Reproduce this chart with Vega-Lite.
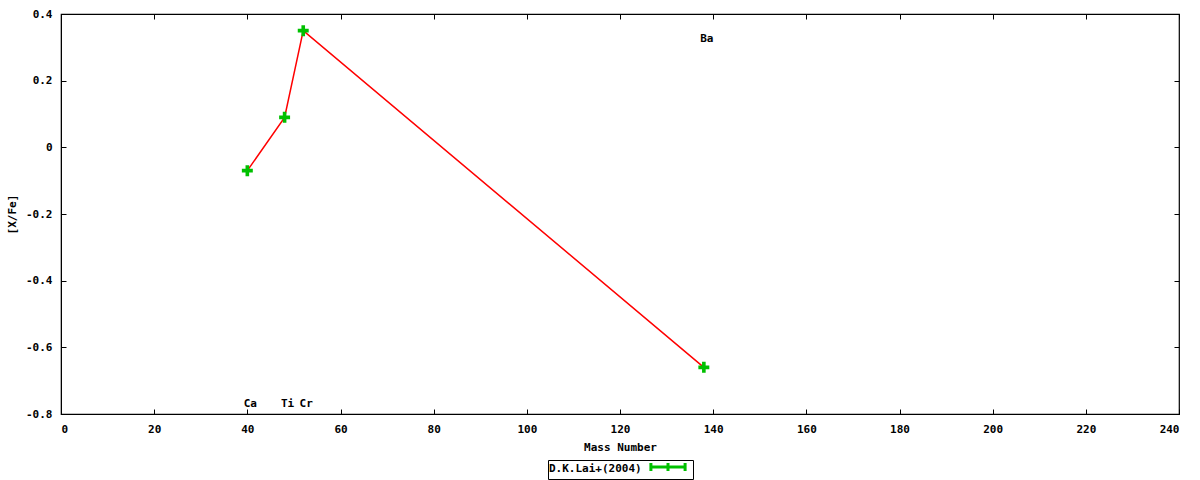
{
  "$schema": "https://vega.github.io/schema/vega-lite/v6.json",
  "width": 1118,
  "height": 400,
  "autosize": {"type": "none"},
  "padding": {"left": 61, "top": 14, "right": 21, "bottom": 66},
  "background": "white",
  "config": {
    "view": {"stroke": "black", "strokeWidth": 1.2},
    "font": "DejaVu Sans Mono",
    "axis": {
      "labelFont": "DejaVu Sans Mono",
      "labelFontSize": 11,
      "labelFontWeight": "bold",
      "labelColor": "black",
      "titleFont": "DejaVu Sans Mono",
      "titleFontSize": 11,
      "titleFontWeight": "bold",
      "titleColor": "black",
      "domainColor": "black",
      "tickColor": "black",
      "grid": false,
      "tickSize": -5
    }
  },
  "data": {
    "values": [
      {"element": "Ca", "mass": 40, "xfe": -0.07, "labelY": -0.77},
      {"element": "Ti", "mass": 48, "xfe": 0.09, "labelY": -0.77},
      {"element": "Cr", "mass": 52, "xfe": 0.35, "labelY": -0.77},
      {"element": "Ba", "mass": 138, "xfe": -0.66, "labelY": 0.325}
    ]
  },
  "layer": [
    {
      "mark": {"type": "line", "color": "#ff0000", "strokeWidth": 1.5},
      "encoding": {
        "x": {"field": "mass", "type": "quantitative", "scale": {"domain": [0, 240], "nice": false, "zero": false},
              "axis": {"orient": "bottom", "title": "Mass Number", "values": [0,20,40,60,80,100,120,140,160,180,200,220,240], "labelPadding": 14, "titlePadding": 7}},
        "y": {"field": "xfe", "type": "quantitative", "scale": {"domain": [-0.8, 0.4], "nice": false, "zero": false},
              "axis": {"orient": "left", "title": "[X/Fe]", "values": [-0.8,-0.6,-0.4,-0.2,0,0.2,0.4], "labelPadding": 14, "titlePadding": 8,
                       "labelExpr": "datum.value == 0 ? '0' : replace(format(datum.value, '.1f'), '\u2212', '-')"}}
      }
    },
    {
      "mark": {"type": "point", "shape": "M-0.33,-1H0.33V-0.33H1V0.33H0.33V1H-0.33V0.33H-1V-0.33H-0.33Z", "filled": true, "size": 120, "opacity": 1},
      "encoding": {
        "x": {"field": "mass", "type": "quantitative", "scale": {"domain": [0, 240], "nice": false, "zero": false},
              "axis": {"orient": "top", "labels": false, "title": null, "domain": false, "values": [0,20,40,60,80,100,120,140,160,180,200,220,240]}},
        "y": {"field": "xfe", "type": "quantitative", "scale": {"domain": [-0.8, 0.4], "nice": false, "zero": false},
              "axis": {"orient": "right", "labels": false, "title": null, "domain": false, "values": [-0.8,-0.6,-0.4,-0.2,0,0.2,0.4]}},
        "color": {
          "datum": "D.K.Lai+(2004)",
          "type": "nominal",
          "scale": {"range": ["#00c000"]},
          "legend": {
            "orient": "none",
            "legendX": 487,
            "legendY": 446,
            "title": "D.K.Lai+(2004)",
            "titleOrient": "left",
            "titleFont": "DejaVu Sans Mono",
            "titleFontSize": 11,
            "titleFontWeight": "bold",
            "titleColor": "black",
            "titlePadding": 20,
            "titleBaseline": "middle",
            "labelExpr": "''",
            "labelFontSize": 1,
            "labelOffset": 0,
            "strokeColor": "black",
            "padding": 1,
            "symbolType": "M-3.8,0H3.8M-3.8,-0.9V0.9M0,-0.9V0.9M3.8,-0.9V0.9",
            "symbolSize": 81,
            "symbolStrokeColor": "#00c000",
            "symbolStrokeWidth": 3,
            "symbolFillColor": "transparent",
            "symbolOpacity": 1
          }
        }
      }
    },
    {
      "mark": {"type": "text", "font": "DejaVu Sans Mono", "fontSize": 11, "fontWeight": "bold", "color": "black", "dx": 3, "align": "center", "baseline": "middle"},
      "encoding": {
        "x": {"field": "mass", "type": "quantitative", "scale": {"domain": [0, 240], "nice": false, "zero": false}, "axis": null},
        "y": {"field": "labelY", "type": "quantitative", "scale": {"domain": [-0.8, 0.4], "nice": false, "zero": false}, "axis": null},
        "text": {"field": "element"}
      }
    }
  ],
  "resolve": {"axis": {"x": "independent", "y": "independent"}}
}
